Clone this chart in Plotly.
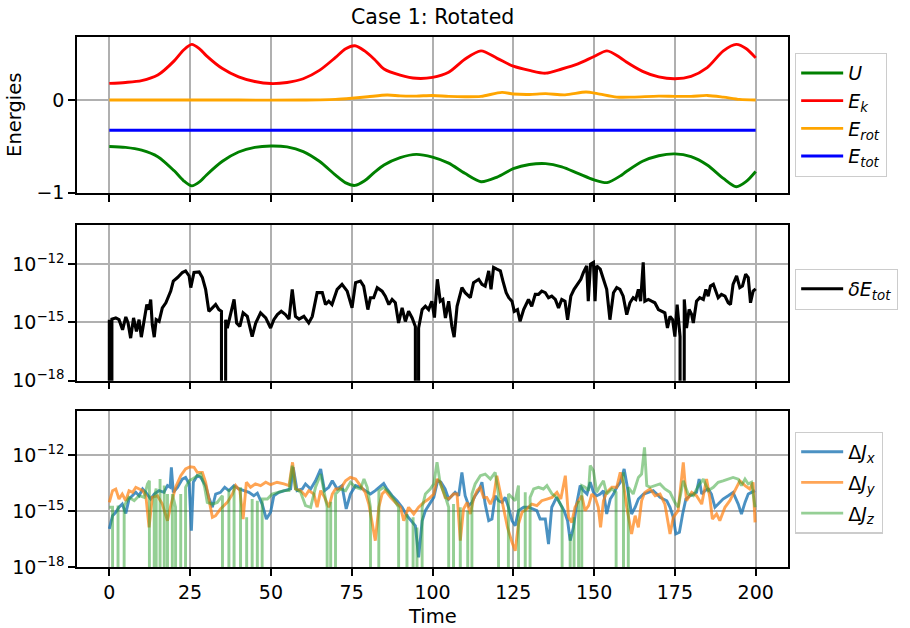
import plotly.graph_objects as go

# ---------------- energies (time, value) ----------------
U_pts = [(0, -0.50), (5, -0.51), (10, -0.54), (15, -0.61), (20, -0.76), (23, -0.87),
         (25.5, -0.925), (28, -0.88), (30, -0.81), (35, -0.66), (40, -0.56), (45, -0.51),
         (50, -0.495), (55, -0.505), (60, -0.555), (65, -0.66), (70, -0.81), (73, -0.89),
         (76, -0.92), (79, -0.87), (82, -0.78), (85, -0.70), (90, -0.62), (95, -0.585),
         (100, -0.615), (105, -0.68), (110, -0.79), (115, -0.88), (120, -0.83), (125, -0.74),
         (130, -0.695), (135, -0.685), (140, -0.72), (145, -0.79), (150, -0.86), (154, -0.89),
         (158, -0.82), (160, -0.77), (165, -0.66), (170, -0.60), (175, -0.58), (180, -0.61),
         (185, -0.70), (190, -0.845), (194, -0.935), (197, -0.88), (200, -0.77)]

EK_pts = [(0, 0.18), (5, 0.19), (10, 0.21), (15, 0.27), (20, 0.42), (23, 0.54), (25.5, 0.60),
          (28, 0.55), (30, 0.48), (35, 0.34), (40, 0.25), (45, 0.20), (50, 0.178), (55, 0.19),
          (60, 0.23), (65, 0.32), (70, 0.46), (73, 0.55), (76, 0.585), (79, 0.53), (82, 0.44),
          (85, 0.335), (90, 0.27), (95, 0.235), (100, 0.245), (105, 0.30), (110, 0.44),
          (115, 0.53), (120, 0.45), (125, 0.365), (130, 0.32), (135, 0.29), (140, 0.335),
          (145, 0.39), (150, 0.47), (154, 0.53), (158, 0.46), (160, 0.41), (165, 0.31),
          (170, 0.25), (175, 0.23), (180, 0.256), (185, 0.35), (190, 0.53), (194, 0.60),
          (197, 0.556), (200, 0.455)]

EROT_pts = [(0, 0.0), (20, 0.0), (40, 0.0), (60, 0.0), (65, 0.002), (70, 0.007), (75, 0.02),
            (80, 0.036), (86, 0.054), (90, 0.045), (95, 0.043), (100, 0.05), (105, 0.04),
            (110, 0.036), (115, 0.04), (121.5, 0.083), (125, 0.065), (130, 0.06), (135, 0.069),
            (141, 0.056), (147.5, 0.087), (151, 0.07), (157, 0.032), (162, 0.032), (170, 0.043),
            (175, 0.04), (180, 0.04), (185, 0.05), (190, 0.032), (195, 0.007), (200, 0.0)]

ETOT_pts = [(0, -0.325), (200, -0.325)]

# ---------------- relative energy error, log10 (None = exactly zero) ----------------
DE_pts = [(0.0, -14.86), (0.4, None), (0.8, -14.83), (2.0, -14.77), (3.0, -14.86), (4.1, -15.38),
          (5.1, -14.72), (5.8, -15.03), (6.6, -15.81), (7.5, -14.77), (8.4, -15.47), (9.2, -14.86),
          (9.9, -15.76), (11.0, -14.77), (11.6, -14.08), (12.3, -14.34), (12.8, -13.82),
          (13.3, -15.12), (13.9, -15.76), (14.5, -14.86), (15.4, -14.95), (16.4, -14.25),
          (17.5, -13.99), (19.0, -13.39), (19.8, -12.87), (21.1, -12.69), (22.6, -12.43),
          (23.6, -12.35), (24.7, -12.61), (25.2, -13.21), (26.2, -12.43), (27.8, -12.40),
          (28.8, -12.69), (29.8, -13.30), (30.8, -14.43), (31.9, -14.25), (32.9, -14.08),
          (33.9, -14.34), (34.7, -14.43), (35.2, None), (36.0, -14.86), (36.5, -15.29),
          (37.5, -14.51), (38.6, -13.82), (39.4, -15.03), (40.4, -15.21), (41.4, -14.51),
          (42.7, -14.69), (44.2, -15.73), (45.3, -15.03), (46.8, -14.51), (48.4, -14.77),
          (49.9, -15.29), (50.9, -14.86), (52.0, -14.60), (53.2, -14.43), (54.5, -14.60),
          (55.6, -14.83), (56.6, -13.30), (57.6, -14.69), (58.7, -14.83), (60.2, -14.69),
          (61.7, -15.03), (62.8, -14.69), (64.3, -13.47), (65.9, -13.47), (66.9, -14.08),
          (67.9, -13.91), (68.9, -14.08), (70.5, -13.30), (72.0, -13.04), (73.6, -13.39),
          (75.1, -14.25), (76.2, -12.95), (77.7, -12.87), (78.7, -13.13), (80.0, -14.34),
          (80.8, -13.73), (81.8, -13.73), (82.9, -13.21), (84.4, -13.39), (85.4, -13.65),
          (86.5, -14.08), (87.5, -13.82), (88.5, -13.99), (89.5, -15.03), (90.6, -14.25),
          (91.6, -14.95), (92.6, -14.43), (93.7, -14.77), (94.7, -15.21), (95.2, None),
          (95.7, -15.29), (96.8, -14.34), (97.8, -14.17), (98.8, -14.34), (99.8, -13.91),
          (100.6, -14.75), (101.5, -12.78), (102.4, -13.91), (103.2, -13.82), (104.0, -14.77),
          (105.0, -13.91), (106.0, -15.21), (106.7, -15.76), (107.6, -14.17), (109.1, -13.21),
          (110.1, -13.47), (111.7, -13.73), (112.7, -12.95), (114.3, -12.78), (115.3, -13.04),
          (116.3, -13.13), (117.4, -12.35), (118.1, -13.30), (118.9, -12.17), (119.9, -12.26),
          (121.0, -12.35), (121.8, -12.87), (122.8, -13.47), (123.6, -13.73), (124.6, -13.91),
          (125.3, -14.43), (126.3, -14.34), (127.1, -14.95), (128.2, -14.34), (129.7, -13.82),
          (130.7, -14.17), (131.8, -13.56), (132.8, -13.56), (133.8, -13.39), (134.9, -13.47),
          (135.9, -13.73), (136.9, -13.65), (138.0, -13.82), (139.0, -14.25), (140.0, -13.82),
          (141.0, -13.91), (141.8, -14.86), (142.8, -13.65), (143.8, -13.30), (144.8, -13.04),
          (145.9, -12.78), (146.7, -12.43), (147.7, -12.09), (148.2, -13.91), (148.9, -12.00),
          (149.8, -11.91), (150.3, -13.91), (150.8, -12.09), (151.9, -12.26), (152.9, -12.78),
          (153.9, -13.30), (154.9, -14.86), (156.0, -13.47), (157.0, -13.21), (158.0, -13.30),
          (159.0, -13.65), (160.1, -14.60), (161.1, -13.99), (162.1, -13.73), (162.9, -13.82),
          (163.7, -13.30), (164.4, -13.91), (165.2, -11.91), (165.7, -13.91), (166.8, -13.82),
          (167.8, -13.91), (168.8, -13.99), (169.9, -14.34), (170.9, -14.43), (171.9, -14.51),
          (172.7, -15.29), (173.5, -14.69), (174.3, -14.86), (175.0, -15.73), (175.7, -14.08),
          (176.6, -15.73), (177.2, None), (177.9, -13.82), (178.6, -15.29), (179.4, -14.34),
          (180.2, -14.60), (180.7, -15.03), (181.7, -13.91), (182.7, -13.73), (183.8, -13.82),
          (184.6, -13.30), (185.3, -13.65), (186.0, -13.13), (186.9, -13.04), (187.7, -13.39),
          (188.4, -13.73), (189.4, -13.56), (190.5, -13.65), (191.5, -13.99), (192.2, -14.08),
          (193.0, -13.04), (194.1, -12.61), (195.1, -13.21), (195.9, -13.13), (196.9, -12.52),
          (197.7, -12.69), (198.4, -13.99), (199.2, -13.39), (200.0, -13.27)]

# ---------------- angular momentum errors, log10 (None = exactly zero) ----------------
JX_pts = [(0, -15.96), (1, -15.25), (2, -15.07), (3, -14.80), (4, -14.63), (5.1, -15.13),
          (6.1, -14.36), (7.2, -14.18), (8.2, -14.0), (9.2, -14.18), (10.3, -13.82), (11.3, -14.0),
          (12.8, -14.36), (13.9, -14.09), (15.4, -13.91), (16.9, -14.0), (18.0, -13.64),
          (18.8, -13.73), (19.2, -12.66), (19.8, -14.0), (21.1, -13.73), (22.6, -13.29),
          (23.6, -13.20), (24.7, -13.55), (25.4, -16.05), (26.0, -13.46), (27.2, -13.11),
          (28.3, -13.20), (29.8, -13.64), (30.8, -14.27), (31.9, -14.80), (32.9, -14.09),
          (34.4, -14.0), (35.7, -13.73), (37.0, -13.91), (38.6, -13.64), (40.1, -13.82),
          (41.7, -13.91), (43.2, -14.0), (44.7, -14.18), (45.8, -14.05), (47.3, -14.63),
          (48.6, -15.43), (49.9, -15.07), (50.9, -14.18), (52.5, -14.0), (54.5, -13.91),
          (56.1, -13.82), (56.9, -12.66), (58.1, -13.91), (59.7, -13.82), (60.7, -13.55),
          (62.3, -13.82), (63.8, -13.38), (65.4, -12.75), (66.6, -13.91), (67.9, -13.73),
          (69.0, -13.38), (70.5, -13.82), (72.0, -13.64), (73.3, -14.89), (74.6, -14.09),
          (76.2, -13.64), (77.7, -13.73), (79.2, -13.91), (80.8, -14.09), (82.3, -13.91),
          (83.9, -13.64), (84.9, -13.52), (85.9, -13.82), (87.5, -14.18), (89.0, -14.45),
          (90.6, -14.80), (92.1, -15.25), (93.7, -15.61), (94.7, -15.79), (95.7, -17.48),
          (96.8, -15.52), (97.8, -14.98), (99.3, -14.54), (100.4, -14.27), (101.6, -13.38),
          (102.6, -13.46), (103.9, -13.82), (105.0, -14.36), (106.0, -14.18), (107.0, -14.0),
          (108.1, -14.18), (109.1, -12.93), (110.1, -14.18), (111.2, -14.71), (112.2, -14.54),
          (113.2, -14.18), (114.3, -13.91), (115.3, -13.46), (116.3, -14.63), (117.4, -15.52),
          (118.4, -15.43), (119.4, -14.18), (120.4, -14.45), (121.5, -14.54), (122.5, -14.27),
          (123.5, -14.80), (124.6, -15.52), (125.6, -15.79), (126.6, -14.98), (128.2, -14.80),
          (129.7, -14.80), (131.3, -14.89), (132.3, -14.98), (133.3, -15.43), (134.9, -15.43),
          (135.9, -16.77), (136.9, -14.80), (138.4, -14.27), (139.7, -14.63), (140.7, -14.98),
          (141.8, -15.52), (142.6, -16.59), (143.6, -15.88), (144.6, -14.63), (145.7, -13.64),
          (146.7, -13.91), (147.8, -14.09), (148.8, -13.46), (149.8, -14.0), (150.8, -14.18),
          (151.9, -14.09), (152.9, -13.91), (153.9, -15.16), (155.0, -14.36), (156.0, -14.09),
          (157.0, -13.73), (158.1, -13.46), (159.3, -12.75), (160.3, -13.73), (161.6, -15.16),
          (162.7, -14.80), (163.7, -14.36), (165.3, -14.09), (166.8, -14.0), (168.3, -13.91),
          (169.4, -14.09), (170.4, -14.27), (171.4, -14.36), (172.5, -14.45), (173.5, -14.80),
          (174.5, -15.34), (175.3, -16.23), (176.4, -16.14), (177.4, -15.16), (178.4, -14.36),
          (179.7, -14.18), (180.7, -14.09), (181.7, -14.0), (182.5, -13.29), (183.3, -14.09),
          (184.3, -13.91), (185.3, -13.82), (186.3, -14.09), (187.4, -14.80), (188.4, -14.63),
          (189.9, -14.36), (191.5, -14.18), (193.0, -14.0), (194.6, -14.63), (195.6, -15.16),
          (196.7, -14.54), (197.7, -14.09), (198.7, -14.0), (199.8, -13.91)]

JY_pts = [(0, -14.54), (1, -13.91), (2, -13.82), (3, -14.36), (4, -14.09), (5.1, -14.45),
          (6.1, -13.91), (7.2, -14.0), (8.2, -13.73), (9.2, -13.82), (10.3, -13.91), (11.3, -14.18),
          (12.3, -15.88), (13.3, -14.27), (14.9, -14.18), (16.4, -14.63), (18.0, -15.52),
          (19.0, -14.71), (20.5, -13.73), (22.1, -13.11), (23.6, -12.75), (25.0, -12.63),
          (26.2, -12.66), (27.2, -12.93), (28.8, -12.93), (29.8, -13.46), (30.8, -14.45),
          (31.9, -15.34), (32.9, -15.25), (34.4, -14.89), (36.5, -14.54), (38.1, -14.09),
          (39.1, -13.64), (40.4, -13.91), (41.4, -15.43), (42.4, -13.46), (43.7, -13.73),
          (45.2, -13.55), (46.8, -13.64), (48.4, -13.46), (49.9, -13.59), (51.9, -13.46),
          (54.0, -13.55), (55.6, -13.64), (56.7, -12.39), (57.6, -13.82), (59.2, -13.91),
          (60.7, -14.18), (61.7, -13.91), (63.3, -14.09), (64.3, -14.80), (65.4, -13.91),
          (66.6, -14.27), (67.9, -14.80), (69.0, -14.09), (70.0, -13.82), (71.5, -13.82),
          (73.1, -13.38), (74.6, -13.20), (76.2, -13.29), (77.7, -13.64), (79.2, -14.0),
          (80.3, -14.63), (81.3, -15.52), (82.3, -16.59), (83.4, -14.80), (84.4, -14.09),
          (85.4, -13.91), (87.0, -14.27), (88.5, -14.54), (90.1, -14.80), (91.1, -15.52),
          (92.6, -14.80), (94.2, -15.16), (95.7, -14.80), (97.3, -14.54), (98.8, -14.36),
          (100.4, -14.09), (101.4, -13.29), (102.4, -13.46), (103.9, -14.27), (105.0, -14.36),
          (106.5, -14.09), (107.6, -14.09), (108.6, -16.59), (109.6, -14.89), (110.7, -14.54),
          (111.7, -15.16), (112.7, -14.36), (113.8, -13.91), (114.8, -13.73), (115.8, -14.27),
          (116.8, -14.27), (117.9, -14.63), (118.9, -14.27), (119.9, -13.11), (121.0, -14.09),
          (122.0, -14.80), (123.2, -15.88), (124.6, -16.68), (125.6, -17.13), (126.6, -15.70),
          (127.7, -15.07), (129.2, -14.89), (130.7, -14.63), (132.3, -14.71), (133.8, -14.45),
          (135.4, -14.36), (137.0, -14.27), (138.5, -14.0), (139.7, -14.36), (141.1, -13.11),
          (142.1, -15.34), (143.1, -15.61), (144.1, -14.80), (145.2, -14.45), (146.2, -14.18),
          (147.2, -14.98), (148.3, -14.71), (149.3, -14.09), (150.3, -14.27), (151.3, -14.80),
          (152.0, -15.88), (152.9, -14.45), (153.9, -14.0), (155.5, -13.73), (157.0, -13.73),
          (158.1, -12.93), (159.1, -13.55), (160.1, -14.80), (161.6, -16.23), (162.7, -15.25),
          (163.7, -15.88), (164.7, -14.45), (165.7, -14.0), (167.3, -13.82), (168.9, -14.18),
          (170.4, -14.09), (171.9, -14.63), (173.5, -16.23), (174.5, -15.34), (176.0, -14.98),
          (177.6, -12.39), (178.6, -14.45), (180.2, -14.0), (181.7, -14.18), (183.3, -14.63),
          (184.8, -13.29), (185.8, -14.27), (186.6, -15.43), (187.9, -15.16), (188.9, -15.52),
          (190.5, -14.80), (192.0, -14.45), (193.6, -13.91), (195.1, -13.38), (196.7, -13.64),
          (198.2, -13.82), (199.2, -13.46), (199.8, -15.61)]

JZ_pts = [(0, -14.80), (1, -14.80), (2.0, None), (2.7, -14.71), (3.3, None), (4.6, -14.71),
          (6.1, -14.27), (7.7, -14.45), (9.2, -14.18), (10.8, -14.27), (11.8, -13.55),
          (12.4, -13.38), (12.8, None), (13.9, -14.27), (14.5, -13.80), (15.1, None),
          (15.7, -13.29), (16.4, None), (17.0, -13.64), (17.5, None), (18.0, -14.09), (18.7, None),
          (19.5, -14.09), (20.5, -14.80), (21.4, None), (22.1, -14.09), (22.6, None),
          (23.6, -13.73), (24.7, -13.38), (25.7, -13.29), (27.2, -13.11), (28.3, -13.02),
          (29.5, -13.73), (30.3, -14.54), (31.9, -14.63), (33.4, -14.54), (35.0, -14.18),
          (36.3, None), (37.0, -13.82), (37.8, None), (38.6, -13.64), (39.6, None),
          (40.6, -13.73), (41.7, None), (42.5, -15.34), (43.4, None), (44.2, -14.36), (45.0, None),
          (45.8, -14.45), (46.6, None), (47.3, -14.36), (48.9, -14.36), (50.4, -14.09),
          (51.9, -14.0), (54.0, -13.91), (55.6, -13.91), (56.6, -12.57), (57.6, -13.82),
          (59.2, -14.0), (60.7, -14.71), (62.3, -14.80), (63.8, -13.73), (65.4, -13.02),
          (66.4, -13.91), (67.4, -14.80), (67.9, None), (68.5, -14.50), (69.1, None),
          (70.0, -14.09), (71.5, -13.82), (73.1, -13.91), (74.6, -13.46), (76.2, -13.73),
          (77.7, -13.82), (78.8, -13.29), (79.8, -13.73), (80.8, -14.80), (81.5, None),
          (82.3, None), (83.4, -13.91), (84.9, -13.73), (86.5, -14.0), (88.0, -14.36),
          (89.5, -14.80), (91.3, None), (92.1, -15.16), (93.2, None), (94.0, -15.34), (94.7, None),
          (95.2, -15.88), (96.0, None), (96.8, -14.80), (97.8, -14.09), (99.3, -13.82),
          (100.4, -13.55), (101.4, -12.39), (102.4, -13.55), (103.9, -14.18), (105.0, -14.80),
          (106.0, None), (106.5, -14.63), (108.0, None), (108.6, -14.80), (110.1, None),
          (110.9, -14.98), (111.7, None), (112.2, -14.09), (113.2, -13.55), (114.8, -13.11),
          (116.3, -13.02), (117.9, -13.29), (119.4, -12.93), (120.4, -14.09), (121.5, None),
          (122.5, None), (123.5, -14.09), (124.6, -14.27), (125.6, -14.45), (126.6, -13.64),
          (127.9, None), (128.7, -14.0), (129.4, None), (130.2, -14.27), (131.3, -13.82),
          (132.8, -13.73), (134.3, -13.82), (135.4, -13.64), (137.0, -14.09), (138.5, -14.27),
          (140.1, -14.80), (141.3, None), (142.1, None), (142.6, -16.23), (143.1, None),
          (143.8, -15.34), (144.6, None), (145.2, -14.45), (145.7, None), (146.2, -13.64),
          (147.2, -13.73), (148.3, -13.91), (148.8, -12.57), (149.8, -12.84), (150.8, -14.0),
          (151.9, -13.64), (152.9, -13.38), (153.9, -14.09), (155.5, -13.82), (156.8, -14.0),
          (158.2, None), (159.1, -12.93), (159.6, None), (160.6, -13.73), (162.1, -14.09),
          (163.7, -13.20), (164.7, -13.02), (165.6, -11.59), (166.3, -13.64), (167.3, -13.73),
          (168.9, -13.64), (170.4, -13.55), (171.9, -13.82), (173.5, -14.0), (175.0, -14.54),
          (176.0, -14.80), (177.6, -13.38), (179.1, -14.09), (180.7, -14.18), (182.3, -13.64),
          (183.8, -13.29), (185.3, -13.91), (186.9, -13.73), (188.4, -13.46), (189.9, -13.38),
          (191.5, -13.29), (193.0, -13.20), (194.6, -13.29), (195.6, -13.64), (196.7, -13.29),
          (197.7, -13.55), (198.7, -13.46), (199.8, -14.80)]

X_TICKS = [0, 25, 50, 75, 100, 125, 150, 175, 200]
LOG_TICKS = [1e-18, 1e-15, 1e-12]
LOG_TICK_TEXT = ["10<sup>\u221218</sup>", "10<sup>\u221215</sup>", "10<sup>\u221212</sup>"]


def unzip(pts):
    return [p[0] for p in pts], [p[1] for p in pts]


def to_linear(logs):
    # exact zeros are clipped far below the axis, like a log scale with nonpositive='clip'
    return [1e-300 if v is None else 10.0 ** v for v in logs]


FONT = "DejaVu Sans"
fig = go.Figure()

# top panel: energies
for pts, name, color in [(U_pts, "<i>U</i>", "green"),
                         (EK_pts, "<i>E</i><sub><i>k</i></sub>", "red"),
                         (EROT_pts, "<i>E</i><sub><i>rot</i></sub>", "orange"),
                         (ETOT_pts, "<i>E</i><sub><i>tot</i></sub>", "blue")]:
    t, v = unzip(pts)
    fig.add_trace(go.Scatter(x=t, y=v, mode="lines", name=name, xaxis="x", yaxis="y",
                             line=dict(color=color, width=2.9, shape="spline", smoothing=0.8),
                             legend="legend", legendgroup=name))

# middle panel: energy error
t, v = unzip(DE_pts)
fig.add_trace(go.Scatter(x=t, y=to_linear(v), mode="lines", name="<i>\u03b4E</i><sub><i>tot</i></sub>",
                         xaxis="x2", yaxis="y2", line=dict(color="black", width=3.1),
                         legend="legend2"))

# bottom panel: angular momentum errors
for pts, name, color, op in [(JX_pts, "\u0394<i>J</i><sub><i>x</i></sub>", "#1f77b4", 0.8),
                             (JY_pts, "\u0394<i>J</i><sub><i>y</i></sub>", "#ff7f0e", 0.7),
                             (JZ_pts, "\u0394<i>J</i><sub><i>z</i></sub>", "#2ca02c", 0.5)]:
    t, v = unzip(pts)
    fig.add_trace(go.Scatter(x=t, y=to_linear(v), mode="lines", name=name, xaxis="x3", yaxis="y3",
                             line=dict(color=color, width=2.9), opacity=op,
                             legend="legend3", legendgroup=name))

axis_common = dict(showline=True, linecolor="black", linewidth=1.5, mirror=True,
                   ticks="outside", ticklen=7, tickwidth=1.5, tickcolor="black",
                   showgrid=True, gridcolor="#b0b0b0", gridwidth=1.5, zeroline=False,
                   tickfont=dict(family=FONT, size=19, color="black"))

xcommon = dict(axis_common, range=[-10, 210], tickmode="array", tickvals=X_TICKS)

legend_common = dict(x=1.0098, xanchor="left", yanchor="top", bgcolor="rgba(255,255,255,0.8)",
                     bordercolor="#cccccc", borderwidth=1.2, itemwidth=42,
                     font=dict(family=FONT, size=19, color="black"))

fig.update_layout(
    width=910, height=628,
    margin=dict(l=77, r=122, t=37, b=60.5),
    paper_bgcolor="white", plot_bgcolor="white",
    showlegend=True,
    xaxis=dict(xcommon, domain=[0, 1], anchor="y", showticklabels=False, matches="x3"),
    xaxis2=dict(xcommon, domain=[0, 1], anchor="y2", showticklabels=False, matches="x3"),
    xaxis3=dict(xcommon, domain=[0, 1], anchor="y3",
                ticktext=[str(v) for v in X_TICKS]),
    yaxis=dict(axis_common, domain=[0.706, 1.0], range=[-1.0, 0.68], tickmode="array",
               tickvals=[-1, 0], ticktext=["\u22121", "0"]),
    yaxis2=dict(axis_common, domain=[0.3516, 0.6462], type="log", range=[-18, -9.96],
                tickmode="array", tickvals=LOG_TICKS, ticktext=LOG_TICK_TEXT),
    yaxis3=dict(axis_common, domain=[0.0, 0.2937], type="log", range=[-18, -9.66],
                tickmode="array", tickvals=LOG_TICKS, ticktext=LOG_TICK_TEXT),
    legend=dict(legend_common, y=0.970, tracegroupgap=0),
    legend2=dict(legend_common, y=0.5627),
    legend3=dict(legend_common, y=0.2554, tracegroupgap=3),
    annotations=[
        dict(text="Case 1: Rotated", x=0.5, y=1.0377, xref="paper", yref="paper",
             xanchor="center", yanchor="middle", showarrow=False,
             font=dict(family=FONT, size=20.5, color="black")),
        dict(text="Time", x=0.5, y=-0.0933, xref="paper", yref="paper",
             xanchor="center", yanchor="middle", showarrow=False,
             font=dict(family=FONT, size=19.5, color="black")),
        dict(text="Energies", x=-0.0872, y=0.853, xref="paper", yref="paper",
             xanchor="center", yanchor="middle", showarrow=False, textangle=-90,
             font=dict(family=FONT, size=19.5, color="black")),
    ],
)

fig.write_html("out.html")
